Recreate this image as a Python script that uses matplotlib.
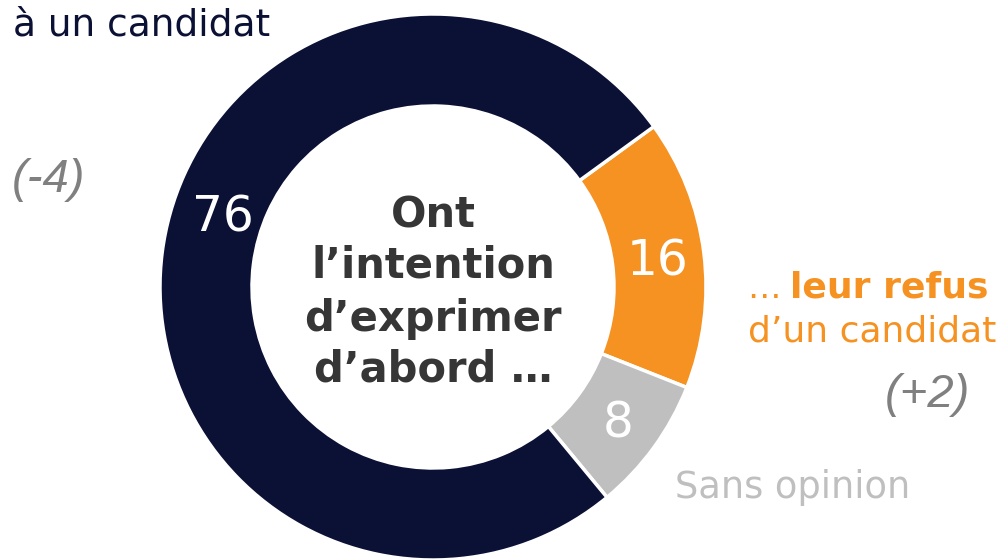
import matplotlib.pyplot as plt

# donut values
labels = ["16", "8", "76"]
values = [16, 8, 76]
colors = ["#F59222", "#BFBFBF", "#0B1035"]

center_lines = ["Ont", "l’intention", "d’exprimer", "d’abord …"]
evolutions = ["(-4)", "(+2)"]

fig = plt.figure(figsize=(10.05, 5.6), dpi=100)
ax = fig.add_axes([0, 0, 1, 1])

# pie in pixel coordinates (y goes up)
ax.pie(values, colors=colors, startangle=36, counterclock=False,
       center=(433, 273), radius=273,
       wedgeprops=dict(width=92, edgecolor="white", linewidth=2.5))

ax.set_xlim(0, 1005)
ax.set_ylim(0, 560)
ax.set_aspect("equal")
ax.axis("off")

# values inside ring
ax.text(223, 343, labels[2], color="white", fontsize=35, ha="center", va="center")
ax.text(658, 299, labels[0], color="white", fontsize=35, ha="center", va="center")
ax.text(618, 137, labels[1], color="white", fontsize=35, ha="center", va="center")

# text in the hole
for line, y in zip(center_lines, [332, 282, 229, 178]):
    ax.text(433, y, line, color="#363636", fontsize=30, fontweight="bold",
            ha="center", va="baseline")

# side labels
ax.text(13, 525, "à un candidat", color="#0B1035", fontsize=27, va="baseline")
ax.text(747, 262, "…", color="#F59222", fontsize=24, va="baseline")
ax.text(790, 262, "leur refus", color="#F59222", fontsize=26,
        fontweight="bold", va="baseline")
ax.text(748, 218, "d’un candidat", color="#F59222", fontsize=26, va="baseline")
ax.text(675, 62, "Sans opinion", color="#BFBFBF", fontsize=26.5, va="baseline")

ax.text(49, 380, evolutions[0], color="#808080", fontsize=34, style="italic",
        family="Liberation Sans", ha="center", va="center")
ax.text(927, 165, evolutions[1], color="#808080", fontsize=34, style="italic",
        family="Liberation Sans", ha="center", va="center")

fig.savefig("out.png", dpi=100)
